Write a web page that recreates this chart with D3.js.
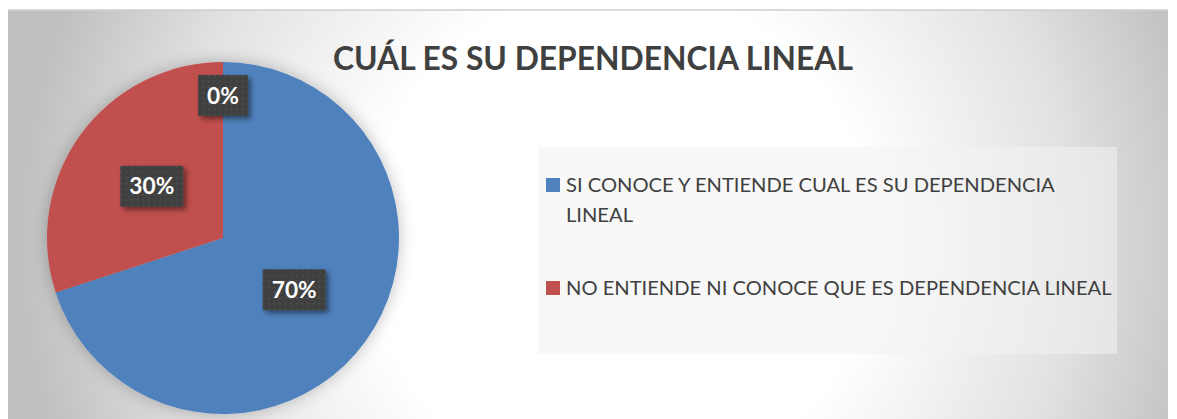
<!DOCTYPE html>
<html>
<head>
<meta charset="utf-8">
<script src="https://cdn.jsdelivr.net/npm/d3@7"></script>
<style>
  html, body { margin: 0; padding: 0; background: #ffffff; }
  svg { display: block; }
</style>
</head>
<body>
<svg id="chart" width="1177" height="419"></svg>
<script>
// ---- data ----
const title = "CUÁL ES SU DEPENDENCIA LINEAL";
const categories = [
  "SI CONOCE Y ENTIENDE CUAL ES SU DEPENDENCIA LINEAL",
  "NO ENTIENDE NI CONOCE QUE ES DEPENDENCIA LINEAL",
  ""
];
const values = [70, 30, 0];
const labels = ["70%", "30%", "0%"];
const colors = ["#4f81bd", "#c0504d", "#9bbb59"];

// ---- layout ----
const W = 1177, H = 419;
const FONT = "Lato, 'Open Sans', sans-serif";
const svg = d3.select("#chart");
const defs = svg.append("defs");

const bg = defs.append("radialGradient").attr("id", "bg")
  .attr("gradientUnits", "userSpaceOnUse")
  .attr("cx", 620).attr("cy", 240).attr("r", 600);
bg.append("stop").attr("offset", "0").attr("stop-color", "#ffffff");
bg.append("stop").attr("offset", "0.42").attr("stop-color", "#ffffff");
bg.append("stop").attr("offset", "0.75").attr("stop-color", "#e2e2e2");
bg.append("stop").attr("offset", "1").attr("stop-color", "#c0c0c0");

const pieShadow = defs.append("filter").attr("id", "pieShadow")
  .attr("x", "-20%").attr("y", "-20%").attr("width", "140%").attr("height", "140%");
pieShadow.append("feDropShadow").attr("dx", 0).attr("dy", 0)
  .attr("stdDeviation", 8).attr("flood-color", "#000").attr("flood-opacity", 0.25);

const boxShadow = defs.append("filter").attr("id", "boxShadow")
  .attr("x", "-30%").attr("y", "-30%").attr("width", "160%").attr("height", "160%");
boxShadow.append("feDropShadow").attr("dx", 3).attr("dy", 3)
  .attr("stdDeviation", 2.5).attr("flood-color", "#000").attr("flood-opacity", 0.45);

const dots = defs.append("pattern").attr("id", "dots")
  .attr("patternUnits", "userSpaceOnUse").attr("width", 5.6).attr("height", 5.6);
dots.append("rect").attr("width", 5.6).attr("height", 5.6).attr("fill", "#404040");
dots.append("rect").attr("x", 2).attr("y", 2).attr("width", 1.4).attr("height", 1.4).attr("fill", "#555555");

// chart area
svg.append("rect").attr("x", 8).attr("y", 10).attr("width", 1160).attr("height", 420)
  .attr("fill", "url(#bg)");
svg.append("line").attr("x1", 8).attr("x2", 1168).attr("y1", 10).attr("y2", 10)
  .attr("stroke", "#cfcfcf").attr("stroke-width", 1.5);

// helper to measure text
function measure(text, size, weight) {
  const t = svg.append("text").attr("font-family", FONT).attr("font-size", size)
    .attr("font-weight", weight).text(text);
  const w = t.node().getComputedTextLength();
  t.remove();
  return w;
}

// title
const titleW = 520;
const titleSize = 100 * titleW / measure(title, 100, "bold");
svg.append("text").attr("x", 593).attr("y", 70)
  .attr("text-anchor", "middle").attr("font-family", FONT).attr("font-weight", "bold")
  .attr("font-size", titleSize).attr("fill", "#404040").text(title);

// pie
const cx = 223, cy = 238, R = 176;
const pie = d3.pie().sort(null).value(d => d.v).startAngle(0).endAngle(2 * Math.PI);
const data = categories.map((c, i) => ({ name: c, v: values[i], label: labels[i], color: colors[i] }));
const arcs = pie(data);
const arc = d3.arc().innerRadius(0).outerRadius(R);
const g = svg.append("g").attr("transform", `translate(${cx},${cy})`);
g.append("g").attr("filter", "url(#pieShadow)")
  .selectAll("path").data(arcs.filter(a => a.data.v > 0)).join("path")
  .attr("d", arc).attr("fill", d => d.data.color);

// data labels
const labelArcMid = d3.arc().innerRadius(R * 0.5).outerRadius(R * 0.5);
const labelArcZero = d3.arc().innerRadius(R * 0.81).outerRadius(R * 0.81);
const labelSize = 100 * 45 / measure("70%", 100, "bold");
arcs.forEach(a => {
  const [lx, ly] = (a.data.v > 0 ? labelArcMid : labelArcZero).centroid(a);
  const tw = measure(a.data.label, labelSize, "bold");
  const bw = tw + 18, bh = 41;
  const lg = g.append("g").attr("transform", `translate(${lx},${ly})`);
  lg.append("rect").attr("x", -bw / 2).attr("y", -bh / 2).attr("width", bw).attr("height", bh)
    .attr("fill", "url(#dots)").attr("filter", "url(#boxShadow)");
  lg.append("text").attr("text-anchor", "middle").attr("dy", "0.36em")
    .attr("font-family", FONT).attr("font-weight", "bold").attr("font-size", labelSize)
    .attr("fill", "#ffffff").text(a.data.label);
});

// legend
const legendX = 538, legendY = 147, legendW = 579, legendH = 207;
svg.append("rect").attr("x", legendX).attr("y", legendY).attr("width", legendW).attr("height", legendH)
  .attr("fill", "#f2f2f2").attr("fill-opacity", 0.55);

const legendItems = data.filter(d => d.name !== "");
const legSize = 100 * 546 / measure(legendItems[1].name, 100, "normal");
const wrapW = 552;
const entryBaselines = [192, 295];
const lineH = 30;
legendItems.forEach((d, i) => {
  const words = d.name.split(" ");
  const lines = [];
  let cur = "";
  words.forEach(wd => {
    const test = cur ? cur + " " + wd : wd;
    if (measure(test, legSize, "normal") > wrapW && cur) { lines.push(cur); cur = wd; }
    else cur = test;
  });
  lines.push(cur);
  const base = entryBaselines[i];
  svg.append("rect").attr("x", 546).attr("y", base - 14).attr("width", 14).attr("height", 14)
    .attr("fill", d.color);
  const t = svg.append("text").attr("font-family", FONT).attr("font-size", legSize)
    .attr("fill", "#404040");
  lines.forEach((ln, j) => {
    t.append("tspan").attr("x", 566).attr("y", base + j * lineH).text(ln);
  });
});
</script>
</body>
</html>
